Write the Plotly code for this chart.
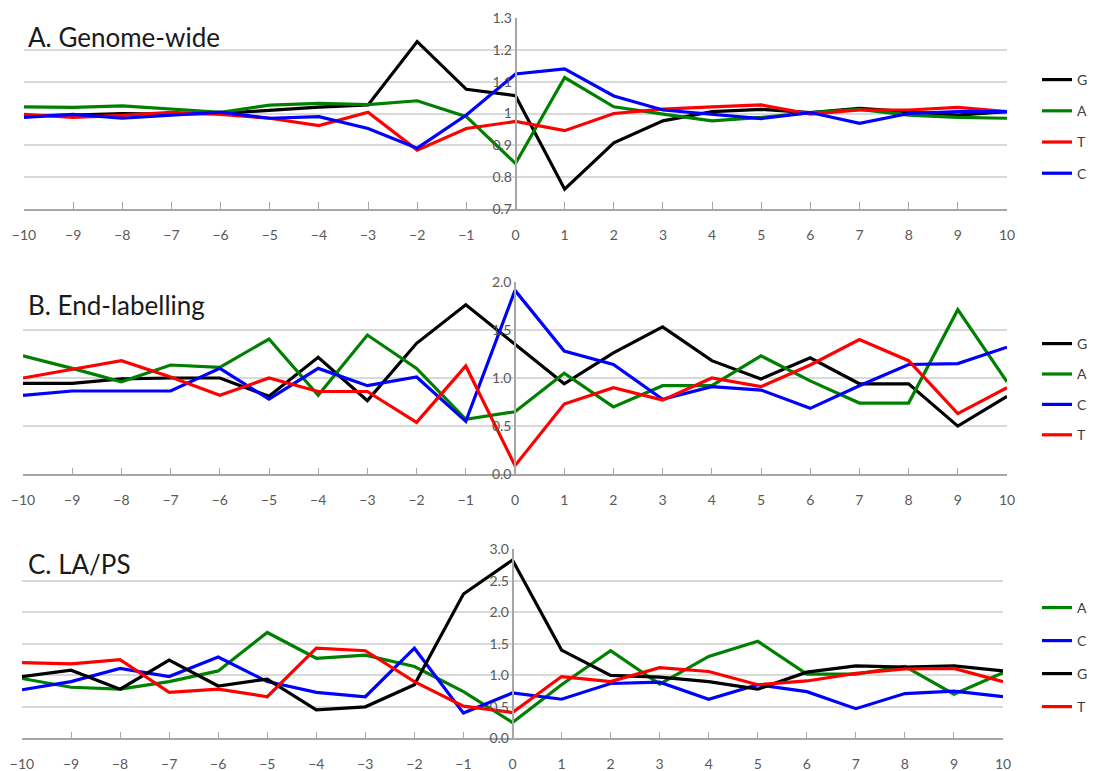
import plotly.graph_objects as go

positions = list(range(-10, 11))

# Panel A: Genome-wide
a_G = [0.993, 0.995, 1.0, 0.998, 1.0, 1.01, 1.02, 1.027, 1.226, 1.076, 1.056, 0.762, 0.908, 0.977, 1.006, 1.013, 1.003, 1.016, 1.006, 0.995, 1.006]
a_A = [1.021, 1.019, 1.024, 1.013, 1.004, 1.026, 1.032, 1.028, 1.04, 0.99, 0.843, 1.113, 1.021, 0.998, 0.977, 0.988, 1.003, 1.013, 0.995, 0.988, 0.985]
a_T = [0.997, 0.988, 0.994, 1.004, 0.997, 0.985, 0.962, 1.004, 0.885, 0.953, 0.975, 0.946, 1.0, 1.014, 1.021, 1.027, 0.998, 1.011, 1.011, 1.019, 1.006]
a_C = [0.988, 0.997, 0.985, 0.995, 1.004, 0.985, 0.99, 0.953, 0.891, 0.995, 1.124, 1.14, 1.055, 1.011, 0.998, 0.984, 1.003, 0.969, 1.0, 1.006, 1.006]

# Panel B: End-labelling
b_G = [0.945, 0.945, 0.99, 1.0, 1.0, 0.81, 1.215, 0.765, 1.36, 1.76, 1.35, 0.94, 1.26, 1.53, 1.18, 0.99, 1.21, 0.94, 0.94, 0.50, 0.81]
b_A = [1.23, 1.10, 0.96, 1.135, 1.11, 1.405, 0.82, 1.446, 1.10, 0.57, 0.65, 1.05, 0.70, 0.92, 0.92, 1.23, 0.97, 0.74, 0.74, 1.71, 0.96]
b_C = [0.82, 0.865, 0.865, 0.865, 1.10, 0.78, 1.10, 0.92, 1.01, 0.55, 1.91, 1.28, 1.14, 0.78, 0.91, 0.875, 0.685, 0.92, 1.14, 1.15, 1.32]
b_T = [1.0, 1.09, 1.18, 1.01, 0.82, 1.0, 0.86, 0.86, 0.54, 1.125, 0.09, 0.73, 0.90, 0.77, 1.0, 0.91, 1.135, 1.40, 1.18, 0.63, 0.90]

# Panel C: LA/PS
c_A = [0.95, 0.81, 0.78, 0.90, 1.07, 1.68, 1.27, 1.32, 1.14, 0.74, 0.25, 0.85, 1.39, 0.86, 1.30, 1.54, 1.02, 1.02, 1.14, 0.70, 1.04]
c_C = [0.77, 0.90, 1.11, 0.98, 1.29, 0.90, 0.73, 0.66, 1.43, 0.40, 0.72, 0.62, 0.87, 0.89, 0.62, 0.85, 0.74, 0.47, 0.71, 0.75, 0.66]
c_G = [0.98, 1.08, 0.78, 1.24, 0.83, 0.94, 0.45, 0.50, 0.85, 2.29, 2.83, 1.40, 1.00, 0.97, 0.90, 0.78, 1.05, 1.15, 1.13, 1.15, 1.07]
c_T = [1.20, 1.18, 1.25, 0.73, 0.78, 0.66, 1.43, 1.39, 0.90, 0.51, 0.41, 0.98, 0.90, 1.12, 1.06, 0.85, 0.91, 1.03, 1.10, 1.11, 0.90]

colors = {"G": "#000000", "A": "#008000", "T": "#FF0000", "C": "#0000FF"}

W, H = 1093, 771
def px(x):
    return x / W
def py(y):
    return 1 - y / H

panels = [
    dict(title="A. Genome-wide", series=[("G", a_G), ("A", a_A), ("T", a_T), ("C", a_C)],
         x0=24, x1=1007, ytop=18, ybot=209, rng=[0.7, 1.3], dtick=0.1, fmt="", tity=37,
         legy=79, gap=10.0),
    dict(title="B. End-labelling", series=[("G", b_G), ("A", b_A), ("C", b_C), ("T", b_T)],
         x0=23, x1=1007, ytop=281.7, ybot=474.3, rng=[0, 2], dtick=0.5, fmt=".1f", tity=305,
         legy=343, gap=9.2),
    dict(title="C. LA/PS", series=[("A", c_A), ("C", c_C), ("G", c_G), ("T", c_T)],
         x0=22, x1=1003, ytop=549.3, ybot=738.3, rng=[0, 3], dtick=0.5, fmt=".1f", tity=564,
         legy=607, gap=11.8),
]

fig = go.Figure()
layout = dict(
    width=W, height=H, margin=dict(l=0, r=0, t=0, b=0, autoexpand=False),
    paper_bgcolor="white", plot_bgcolor="white",
    font=dict(family="Lato, Liberation Sans, sans-serif", color="#595959", size=14),
    annotations=[],
)
axis_grey = "#A6A6A6"
for i, p in enumerate(panels):
    n = i + 1
    xa = "x" if n == 1 else f"x{n}"
    ya = "y" if n == 1 else f"y{n}"
    lg = "legend" if n == 1 else f"legend{n}"
    for name, vals in p["series"]:
        fig.add_trace(go.Scatter(
            x=positions, y=vals, mode="lines", name=name,
            line=dict(color=colors[name], width=3.2),
            xaxis=xa, yaxis=ya, legend=lg, legendgroup=f"{n}{name}",
        ))
    xd = [px(p["x0"]), px(p["x1"])]
    yd = [py(p["ybot"]), py(p["ytop"])]
    layout["xaxis" if n == 1 else f"xaxis{n}"] = dict(
        domain=xd, range=[-10, 10], dtick=1, tick0=0, anchor=ya,
        showgrid=False, zeroline=False, showline=True, linecolor=axis_grey, linewidth=1.5,
        ticks="inside", ticklen=7, tickcolor=axis_grey, tickwidth=1,
        ticklabelstandoff=12, tickfont=dict(size=14, color="#595959"),
    )
    layout["yaxis" if n == 1 else f"yaxis{n}"] = dict(
        domain=yd, range=p["rng"], dtick=p["dtick"], tick0=0, tickformat=p["fmt"],
        anchor="free", position=(xd[0] + xd[1]) / 2,
        showgrid=True, gridcolor="#D9D9D9", gridwidth=1.5, zeroline=False,
        showline=True, linecolor=axis_grey, linewidth=1.5, ticks="",
        tickfont=dict(size=14, color="#595959"),
    )
    layout[lg] = dict(
        x=px(1037), y=py(p["legy"] - 15), xanchor="left", yanchor="top",
        bgcolor="rgba(0,0,0,0)", tracegroupgap=p["gap"], itemwidth=30,
        font=dict(size=14, color="#404040"),
    )
    layout["annotations"].append(dict(
        text=p["title"], xref="paper", yref="paper", x=px(26), y=py(p["tity"]),
        xanchor="left", yanchor="middle", showarrow=False,
        font=dict(size=26, color="#1a1a1a", family="Lato, sans-serif"),
    ))

fig.update_layout(**layout)
fig.update_layout(showlegend=True)
fig.write_html(
    "out.html",
    config={"displayModeBar": False},
    post_script="document.body.style.margin='0';document.body.style.overflow='hidden';",
)
